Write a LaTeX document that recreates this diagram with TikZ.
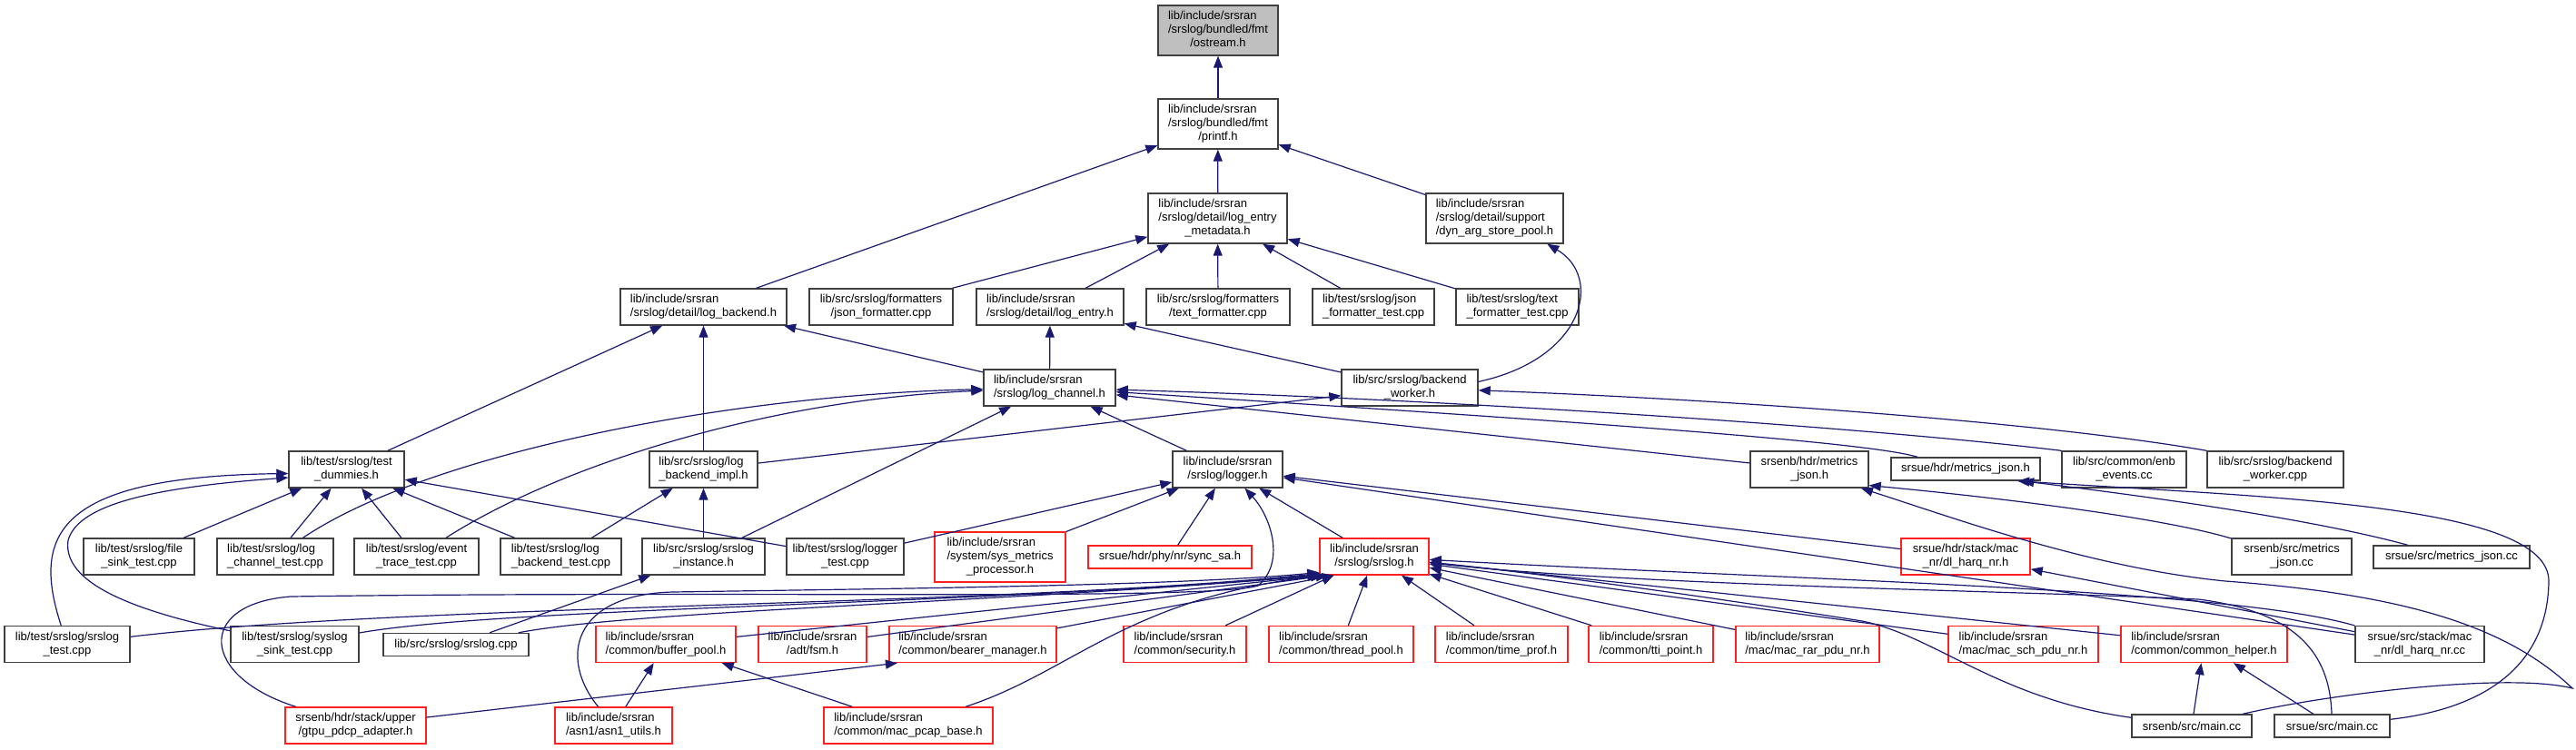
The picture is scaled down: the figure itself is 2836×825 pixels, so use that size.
\documentclass[tikz,border=0pt]{standalone}
\usepackage{xcolor}
\usepackage{fontspec}
\setmainfont{Liberation Sans}
\usepackage{tikz}
\usetikzlibrary{arrows.meta}

\definecolor{edgeblue}{HTML}{191970}
\definecolor{boxgray}{HTML}{404040}
\definecolor{fillgray}{HTML}{BFBFBF}
\definecolor{truncred}{HTML}{FF2020}

\newcommand{\fpath}[2]{\begin{tabular}{@{}l@{}}#1\\\multicolumn{1}{@{}c@{}}{#2}\end{tabular}}

\tikzset{
  file/.style={draw=boxgray, line width=0.7pt, fill=white, rectangle, inner xsep=2pt, inner ysep=0pt, font=\fontsize{6.5}{7.5}\selectfont},
  truncfile/.style={file, draw=truncred},
  oneline/.style={minimum height=12.5pt},
  twoline/.style={minimum height=20pt},
  threeline/.style={minimum height=27.5pt},
  dep/.style={draw=edgeblue, line width=0.6pt, -{Triangle[length=6.5pt,width=5pt]}}
}

\begin{document}
\begin{tikzpicture}[x=0.5pt, y=-0.5pt]
\fill[white] (0,0) rectangle (2836,825);
\useasboundingbox (0,0) rectangle (2836,825);

\node[file, threeline, fill=fillgray, minimum width=66pt] (ostream) at (1341,33.5) {\fpath{lib/include/srsran\\/srslog/bundled/fmt}{/ostream.h}};
\node[file, threeline, minimum width=66pt] (printf) at (1341,136.5) {\fpath{lib/include/srsran\\/srslog/bundled/fmt}{/printf.h}};
\node[file, threeline, minimum width=76.5pt] (metadata) at (1340.5,240.5) {\fpath{lib/include/srsran\\/srslog/detail/log\_entry}{\_metadata.h}};
\node[file, threeline, minimum width=75.5pt] (dynpool) at (1645.5,240.5) {\fpath{lib/include/srsran\\/srslog/detail/support}{/dyn\_arg\_store\_pool.h}};

\node[file, twoline, minimum width=91.5pt] (logbackend) at (774.5,338) {\fpath{lib/include/srsran}{/srslog/detail/log\_backend.h}};
\node[file, twoline, minimum width=79pt] (jsonfmt) at (970,338) {\fpath{lib/src/srslog/formatters}{/json\_formatter.cpp}};
\node[file, twoline, minimum width=81pt] (logentry) at (1156,338) {\fpath{lib/include/srsran}{/srslog/detail/log\_entry.h}};
\node[file, twoline, minimum width=79pt] (textfmt) at (1341,338) {\fpath{lib/src/srslog/formatters}{/text\_formatter.cpp}};
\node[file, twoline, minimum width=67pt] (jsonfmttest) at (1512,338) {\fpath{lib/test/srslog/json}{\_formatter\_test.cpp}};
\node[file, twoline, minimum width=67.5pt] (textfmttest) at (1670.5,338) {\fpath{lib/test/srslog/text}{\_formatter\_test.cpp}};

\node[file, twoline, minimum width=72.5pt] (logchannel) at (1155.5,427) {\fpath{lib/include/srsran}{/srslog/log\_channel.h}};
\node[file, twoline, minimum width=75pt] (backendworker) at (1552,427) {\fpath{lib/src/srslog/backend}{\_worker.h}};

\node[file, twoline, minimum width=63.5pt] (testdummies) at (381.5,517) {\fpath{lib/test/srslog/test}{\_dummies.h}};
\node[file, twoline, minimum width=59.5pt] (backendimpl) at (774.5,517) {\fpath{lib/src/srslog/log}{\_backend\_impl.h}};
\node[file, twoline, minimum width=60.5pt] (logger) at (1351.5,517) {\fpath{lib/include/srsran}{/srslog/logger.h}};
\node[file, twoline, minimum width=65pt] (enbmetrics) at (1992,517) {\fpath{srsenb/hdr/metrics}{\_json.h}};
\node[file, oneline, minimum width=82pt] (uemetrics) at (2164,516.5) {srsue/hdr/metrics\_json.h};
\node[file, twoline, minimum width=68.5pt] (enbevents) at (2338.5,517) {\fpath{lib/src/common/enb}{\_events.cc}};
\node[file, twoline, minimum width=75pt] (backendworkercpp) at (2505,517) {\fpath{lib/src/srslog/backend}{\_worker.cpp}};

\node[file, twoline, minimum width=61pt] (filesink) at (153,613) {\fpath{lib/test/srslog/file}{\_sink\_test.cpp}};
\node[file, twoline, minimum width=64pt] (logchanneltest) at (303,613) {\fpath{lib/test/srslog/log}{\_channel\_test.cpp}};
\node[file, twoline, minimum width=68.5pt] (eventtrace) at (458.5,613) {\fpath{lib/test/srslog/event}{\_trace\_test.cpp}};
\node[file, twoline, minimum width=66.5pt] (logbackendtest) at (617.5,613) {\fpath{lib/test/srslog/log}{\_backend\_test.cpp}};
\node[file, twoline, minimum width=67.5pt] (srsloginstance) at (774.5,613) {\fpath{lib/src/srslog/srslog}{\_instance.h}};
\node[file, twoline, minimum width=64.5pt] (loggertest) at (930.5,613) {\fpath{lib/test/srslog/logger}{\_test.cpp}};
\node[truncfile, threeline, minimum width=72pt] (sysmetrics) at (1101,613.5) {\fpath{lib/include/srsran\\/system/sys\_metrics}{\_processor.h}};
\node[truncfile, oneline, minimum width=90pt] (syncsa) at (1288,613.5) {srsue/hdr/phy/nr/sync\_sa.h};
\node[truncfile, twoline, minimum width=60pt] (srslogh) at (1513,613) {\fpath{lib/include/srsran}{/srslog/srslog.h}};
\node[truncfile, twoline, minimum width=71pt] (dlharqh) at (2164,613) {\fpath{srsue/hdr/stack/mac}{\_nr/dl\_harq\_nr.h}};
\node[file, twoline, minimum width=66pt] (enbmetricscc) at (2523,613) {\fpath{srsenb/src/metrics}{\_json.cc}};
\node[file, oneline, minimum width=86pt] (uemetricscc) at (2699,613.5) {srsue/src/metrics\_json.cc};

\node[file, twoline, minimum width=69pt] (srslogtest) at (74,709.5) {\fpath{lib/test/srslog/srslog}{\_test.cpp}};
\node[file, twoline, minimum width=70.5pt] (syslogsink) at (324.5,709.5) {\fpath{lib/test/srslog/syslog}{\_sink\_test.cpp}};
\node[file, oneline, minimum width=80pt] (srslogcpp) at (502,710) {lib/src/srslog/srslog.cpp};
\node[truncfile, twoline, minimum width=77pt] (bufferpool) at (733,709.5) {\fpath{lib/include/srsran}{/common/buffer\_pool.h}};
\node[truncfile, twoline, minimum width=59.5pt] (fsm) at (894.5,709.5) {\fpath{lib/include/srsran}{/adt/fsm.h}};
\node[truncfile, twoline, minimum width=92pt] (bearermgr) at (1071,709.5) {\fpath{lib/include/srsran}{/common/bearer\_manager.h}};
\node[truncfile, twoline, minimum width=67.5pt] (security) at (1304.5,709.5) {\fpath{lib/include/srsran}{/common/security.h}};
\node[truncfile, twoline, minimum width=79.5pt] (threadpool) at (1476.5,709.5) {\fpath{lib/include/srsran}{/common/thread\_pool.h}};
\node[truncfile, twoline, minimum width=73pt] (timeprof) at (1653,709.5) {\fpath{lib/include/srsran}{/common/time\_prof.h}};
\node[truncfile, twoline, minimum width=68.5pt] (ttipoint) at (1817.5,709.5) {\fpath{lib/include/srsran}{/common/tti\_point.h}};
\node[truncfile, twoline, minimum width=79pt] (macrar) at (1990,709.5) {\fpath{lib/include/srsran}{/mac/mac\_rar\_pdu\_nr.h}};
\node[truncfile, twoline, minimum width=82.5pt] (macsch) at (2227.5,709.5) {\fpath{lib/include/srsran}{/mac/mac\_sch\_pdu\_nr.h}};
\node[truncfile, twoline, minimum width=91.5pt] (commonhelper) at (2426.5,709.5) {\fpath{lib/include/srsran}{/common/common\_helper.h}};
\node[file, twoline, minimum width=71pt] (dlharqcc) at (2664,709.5) {\fpath{srsue/src/stack/mac}{\_nr/dl\_harq\_nr.cc}};

\node[truncfile, twoline, minimum width=77.5pt] (gtpu) at (391.5,799) {\fpath{srsenb/hdr/stack/upper}{/gtpu\_pdcp\_adapter.h}};
\node[truncfile, twoline, minimum width=64.5pt] (asn1utils) at (675.5,799) {\fpath{lib/include/srsran}{/asn1/asn1\_utils.h}};
\node[truncfile, twoline, minimum width=93pt] (macpcap) at (1000,799) {\fpath{lib/include/srsran}{/common/mac\_pcap\_base.h}};
\node[file, oneline, minimum width=66pt] (enbmain) at (2413,799.5) {srsenb/src/main.cc};
\node[file, oneline, minimum width=63.5pt] (uemain) at (2567.5,799.5) {srsue/src/main.cc};

\draw[dep] (printf) -- (ostream);
\draw[dep] (metadata) -- (printf);
\draw[dep] (dynpool) -- (printf);
\draw[dep] (logbackend) -- (printf);
\draw[dep] (jsonfmt) -- (metadata);
\draw[dep] (logentry) -- (metadata);
\draw[dep] (textfmt) -- (metadata);
\draw[dep] (jsonfmttest) -- (metadata);
\draw[dep] (textfmttest) -- (metadata);
\draw[dep] (backendworker.5) .. controls (1745,395) and (1765,305) .. (dynpool.-26);
\draw[dep] (logchannel) -- (logentry);
\draw[dep] (backendworker) -- (logentry);
\draw[dep] (logchannel) -- (logbackend);
\draw[dep] (testdummies) -- (logbackend);
\draw[dep] (backendimpl) -- (logbackend);
\draw[dep] (backendimpl) -- (backendworker);
\draw[dep] (backendworkercpp.north west) .. controls (2250,465) and (1900,440) .. (backendworker);
\draw[dep] (logger) -- (logchannel);
\draw[dep] (srsloginstance) -- (logchannel);
\draw[dep] (logchanneltest) .. controls (470,500) and (800,435) .. (logchannel);
\draw[dep] (eventtrace) .. controls (620,510) and (850,440) .. (logchannel);
\draw[dep] (enbmetrics) -- (logchannel);
\draw[dep] (uemetrics.166) .. controls (2060,488) and (1800,468) .. (logchannel);
\draw[dep] (enbevents.north west) .. controls (2050,470) and (1600,440) .. (logchannel);
\draw[dep] (filesink) -- (testdummies);
\draw[dep] (logchanneltest) -- (testdummies);
\draw[dep] (eventtrace) -- (testdummies);
\draw[dep] (logbackendtest) -- (testdummies);
\draw[dep] (loggertest) -- (testdummies);
\draw[dep] (srslogtest) .. controls (35,590) and (60,525) .. (testdummies.184);
\draw[dep] (syslogsink) .. controls (110,665) and (70,630) .. (75,595) .. controls (85,560) and (150,538) .. (testdummies.188);
\draw[dep] (logbackendtest) -- (backendimpl);
\draw[dep] (srsloginstance) -- (backendimpl);
\draw[dep] (srslogcpp) -- (srsloginstance);
\draw[dep] (loggertest) -- (logger);
\draw[dep] (sysmetrics) -- (logger);
\draw[dep] (syncsa) -- (logger);
\draw[dep] (gtpu) .. controls (220,745) and (215,665) .. (320,657) .. controls (800,650) and (1330,662) .. (1385,645) .. controls (1415,620) and (1400,570) .. (logger);
\draw[dep] (srslogh) -- (logger);
\draw[dep] (dlharqh) -- (logger);
\draw[dep] (dlharqcc) -- (logger);
\draw[dep] (srslogtest) .. controls (450,665) and (1100,668) .. (srslogh.197);
\draw[dep] (syslogsink) .. controls (560,668) and (1100,666) .. (srslogh.198);
\draw[dep] (srslogcpp) .. controls (700,672) and (1100,664) .. (srslogh.199);
\draw[dep] (bufferpool) -- (srslogh.200);
\draw[dep] (fsm) -- (srslogh.202);
\draw[dep] (bearermgr) -- (srslogh.205);
\draw[dep] (macpcap) .. controls (1180,740) and (1240,660) .. (srslogh.200);
\draw[dep] (asn1utils) .. controls (615,725) and (630,655) .. (740,652) .. controls (1000,648) and (1300,645) .. (srslogh.196);
\draw[dep] (security) -- (srslogh);
\draw[dep] (threadpool) -- (srslogh);
\draw[dep] (timeprof) -- (srslogh);
\draw[dep] (ttipoint) -- (srslogh);
\draw[dep] (macrar) -- (srslogh);
\draw[dep] (macsch) -- (srslogh);
\draw[dep] (commonhelper) -- (srslogh);
\draw[dep] (dlharqcc) .. controls (2450,648) and (2000,640) .. (srslogh);
\draw[dep] (enbmain) .. controls (2200,770) and (2130,700) .. (2050,684) .. controls (1900,660) and (1700,632) .. (srslogh);
\draw[dep] (uemain) .. controls (2565,730) and (2540,675) .. (2420,660) .. controls (2200,650) and (1800,645) .. (srslogh);
\draw[dep] (asn1utils) -- (bufferpool);
\draw[dep] (macpcap) -- (bufferpool);
\draw[dep] (gtpu) -- (bearermgr.194);
\draw[dep] (dlharqcc) -- (dlharqh);
\draw[dep] (enbmetricscc) .. controls (2380,570) and (2200,548) .. (enbmetrics.-15);
\draw[dep] (enbmain) .. controls (2560,765) and (2760,740) .. (2832,758) .. controls (2760,690) and (2650,655) .. (2450,640) .. controls (2300,625) and (2150,570) .. (enbmetrics.-20);
\draw[dep] (uemetricscc) .. controls (2540,570) and (2350,545) .. (uemetrics.-12);
\draw[dep] (uemain) .. controls (2740,780) and (2805,730) .. (2806,640) .. controls (2806,555) and (2500,548) .. (uemetrics.-13);
\draw[dep] (enbmain) -- (commonhelper);
\draw[dep] (uemain) -- (commonhelper);
\end{tikzpicture}
\end{document}
